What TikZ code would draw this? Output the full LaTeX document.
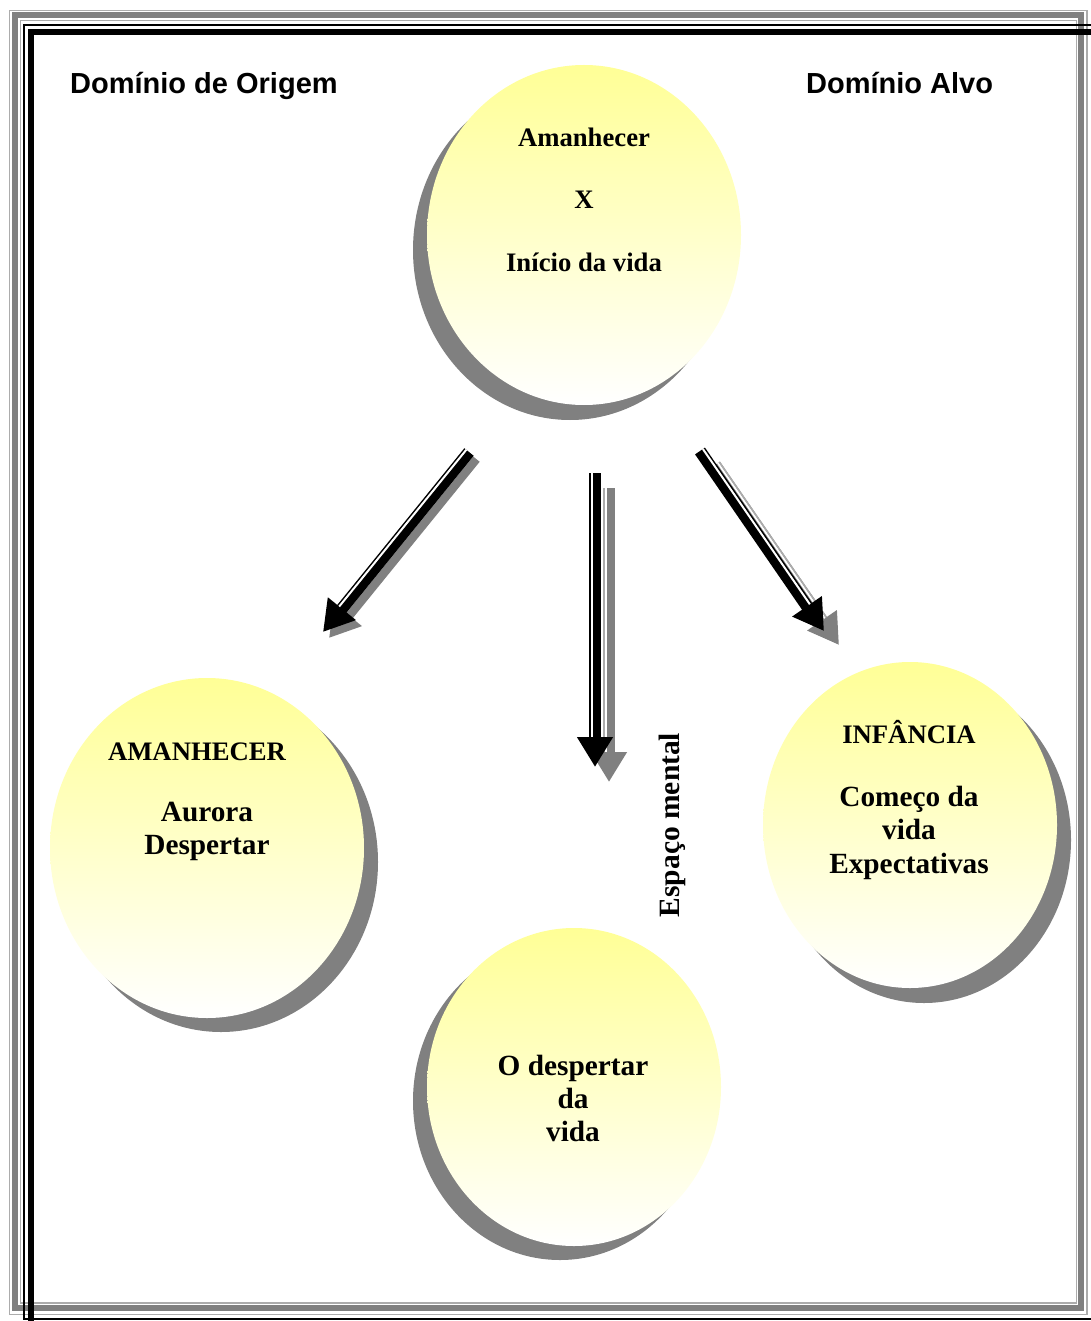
\documentclass[tikz,border=0pt]{standalone}
\usepackage{fontspec}
\setmainfont{Liberation Serif}
\newfontfamily\headsans{Liberation Sans}
\usetikzlibrary{shapes.geometric,shadows,calc,arrows.meta}

\definecolor{facey}{RGB}{255,255,150}
\definecolor{shgray}{RGB}{128,128,128}
\definecolor{lgray}{RGB}{172,172,172}

\tikzset{
  bubble/.style 2 args={ellipse, inner sep=0pt, draw=none,
    top color=facey, bottom color=white,
    general shadow={fill=shgray, shadow xshift=#1, shadow yshift=#2}},
  txt/.style={font=\fontsize{26.7}{30}\selectfont\bfseries, inner sep=0pt, anchor=base},
  bigtxt/.style={txt, font=\fontsize{29.3}{33}\selectfont\bfseries},
  headline/.style={font=\headsans\fontsize{29}{32}\selectfont\bfseries, inner sep=0pt, anchor=base west},
  shaft/.style={line width=12pt, line cap=butt, -{Triangle[length=30pt,width=34pt]}},
  gapline/.style={white, line width=2pt, line cap=butt, shorten >=30pt},
  thinshade/.style={lgray, line width=1.6pt, line cap=butt, shorten >=30pt},
}

% a shaft made of a thin and a thick band, with a solid triangular head
\newcommand\twinarrow[5]{%
  \draw[shaft, draw=#4, fill=#4] (#1) -- (#2);
  \draw[gapline] ($(#1)!3.5pt!#3:(#2)$) -- ($(#2)!3.5pt!#5:(#1)$);
}
\newcommand\twinshadow[4]{%
  \twinarrow{#1}{#2}{#3}{shgray}{#4}
  \draw[thinshade] ($(#1)!5.2pt!#3:(#2)$) -- ($(#2)!5.2pt!#4:(#1)$);
}

\begin{document}
\begin{tikzpicture}[x=1pt,y=-1pt]
\useasboundingbox (0,0) rectangle (1090,1321);
\fill[white] (0,0) rectangle (1090,1321);

% grey outer frame
\draw[lgray, line width=1.5pt] (9.5,10.5) rectangle (1087,1314.5);
\draw[shgray, line width=6pt] (15,15.5) rectangle (1081,1308);
\draw[lgray, line width=1.5pt] (20.5,20.5) rectangle (1076.5,1303);

% black frame, running off the page on the right and at the bottom
\draw[black, line width=1.8pt] (23.7,25) rectangle (1096,1319.3);
\draw[black, line width=6pt] (30.5,32.2) rectangle (1104,1328);

% domain headings
\node[headline] (src) at (70,94) {Domínio de Origem};
\node[headline] (tgt) at (806,94) {Domínio Alvo};

% bubbles
\node[bubble={-14pt}{-15pt}, minimum width=314pt, minimum height=340pt] (top) at (584,235) {};
\node[bubble={14pt}{-14pt}, minimum width=314pt, minimum height=340pt] (left) at (207,848) {};
\node[bubble={14pt}{-15pt}, minimum width=294pt, minimum height=326pt] (right) at (910,825) {};
\node[bubble={-14pt}{-14pt}, minimum width=294pt, minimum height=318pt] (bottom) at (574,1087) {};

% bubble texts
\node[txt] (t1) at (584,147) {Amanhecer};
\node[txt] (t2) at (584,209) {X};
\node[txt] (t3) at (584,272) {Início da vida};

\node[txt] (l1) at (197,760) {AMANHECER};
\node[bigtxt] (l2) at (207,821) {Aurora};
\node[bigtxt] (l3) at (207,854) {Despertar};

\node[txt] (r1) at (909,743) {INFÂNCIA};
\node[bigtxt] (r2) at (909,806) {Começo da};
\node[bigtxt] (r3) at (909,839) {vida};
\node[bigtxt] (r4) at (909,873) {Expectativas};

\node[bigtxt] (b1) at (573,1075) {O despertar};
\node[bigtxt] (b2) at (573,1108) {da};
\node[bigtxt] (b3) at (573,1141) {vida};

% mental space label
\node[txt, font=\fontsize{29.5}{33}\selectfont\bfseries, rotate=90] (esp) at (679.5,825) {Espaço mental};

% arrow end points
\coordinate (ls) at (469,452);  \coordinate (le) at (323,632);
\coordinate (lss) at (475,458); \coordinate (lse) at (329,638);
\coordinate (ms) at (595,473);  \coordinate (me) at (595,767);
\coordinate (mss) at (609,488); \coordinate (mse) at (609,782);
\coordinate (rs) at (700,451);  \coordinate (re) at (824,631);
\coordinate (rss) at (715,465); \coordinate (rse) at (839,645);

% shadows first, arrows on top
\twinshadow{lss}{lse}{-90}{90}
\twinshadow{mss}{mse}{-90}{90}
\twinshadow{rss}{rse}{90}{-90}

\twinarrow{ls}{le}{-90}{black}{90}
\twinarrow{ms}{me}{-90}{black}{90}
\twinarrow{rs}{re}{90}{black}{-90}
\end{tikzpicture}
\end{document}
